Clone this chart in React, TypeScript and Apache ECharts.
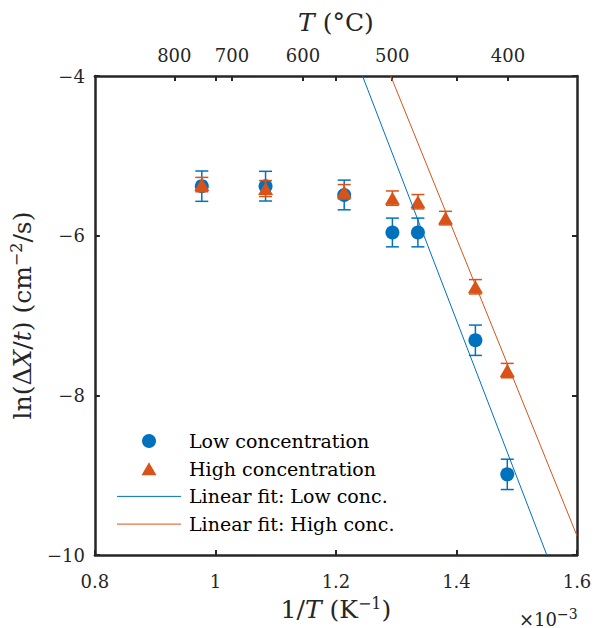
import React, { useEffect, useRef } from "react";
import * as echarts from "echarts";

// 1/T values in units of 1e-3 K^-1
const lowX = [0.9774, 1.0832, 1.2137, 1.2937, 1.336, 1.4314, 1.4843];
const lowY = [-5.38, -5.38, -5.49, -5.96, -5.96, -7.31, -8.99];
const lowErr = [0.19, 0.186, 0.186, 0.18, 0.18, 0.19, 0.19];

const highX = [0.9774, 1.0832, 1.2137, 1.2937, 1.336, 1.3818, 1.4314, 1.4843];
const highY = [-5.36, -5.41, -5.45, -5.53, -5.575, -5.78, -6.64, -7.69];
const highErr = [0.09, 0.1, 0.09, 0.09, 0.09, 0.085, 0.09, 0.09];

const fitLow = [
  [1.2441, -4],
  [1.5499, -10],
];
const fitHigh = [
  [1.2909, -4],
  [1.6, -9.76],
];

const topTempsC = [800, 700, 600, 500, 400];
const mirroredTicks = [1.0, 1.2, 1.4];
const seriesNames = [
  "Low concentration",
  "High concentration",
  "Linear fit: Low conc.",
  "Linear fit: High conc.",
];

const BLUE = "#0072BD";
const ORANGE = "#D95319";
const AXIS = "#262626";
const FONT = "DejaVu Serif";
const TICK_FS = 18;
const NAME_FS = 25;
const LEG_FS = 19;

const topTickPos = topTempsC.map((c) => 1000 / (c + 273.15));

function errorBarSeries(xs: number[], ys: number[], es: number[], color: string, z: number) {
  return {
    type: "custom",
    z,
    data: xs.map((x, i) => [x, ys[i], es[i]]),
    encode: { x: 0, y: 1 },
    renderItem: (params: any, api: any) => {
      const x = api.value(0);
      const y = api.value(1);
      const e = api.value(2);
      const top = api.coord([x, y + e]);
      const bot = api.coord([x, y - e]);
      const cw = 6.5;
      const style = { stroke: color, lineWidth: 1.5 };
      return {
        type: "group",
        children: [
          { type: "line", shape: { x1: top[0], y1: top[1], x2: bot[0], y2: bot[1] }, style },
          { type: "line", shape: { x1: top[0] - cw, y1: top[1], x2: top[0] + cw, y2: top[1] }, style },
          { type: "line", shape: { x1: bot[0] - cw, y1: bot[1], x2: bot[0] + cw, y2: bot[1] }, style },
        ],
      };
    },
  };
}

function legendGraphic() {
  const left = 117;
  const iconW = 64;
  const top0 = 441;
  const step = 27.7;
  const textX = 189;
  const items: any[] = [];
  seriesNames.forEach((name, i) => {
    const cy = top0 + i * step;
    const cx = left + iconW / 2;
    if (i === 0) {
      items.push({ type: "circle", shape: { cx, cy, r: 7 }, style: { fill: BLUE } });
    } else if (i === 1) {
      items.push({
        type: "polygon",
        shape: { points: [[cx, cy - 6.5], [cx + 7.5, cy + 6.5], [cx - 7.5, cy + 6.5]] },
        style: { fill: ORANGE },
      });
    } else {
      items.push({
        type: "line",
        shape: { x1: left, y1: cy, x2: left + iconW, y2: cy },
        style: { stroke: i === 2 ? BLUE : ORANGE, lineWidth: 1 },
      });
    }
    items.push({
      type: "text",
      x: textX,
      y: cy,
      style: {
        text: name,
        fontFamily: FONT,
        fontSize: LEG_FS,
        fill: "#000",
        verticalAlign: "middle",
        align: "left",
      },
    });
  });
  return items;
}

export default function App() {
  const ref = useRef<HTMLDivElement>(null);
  useEffect(() => {
    if (!ref.current) return;
    const chart = echarts.init(ref.current, null, { renderer: "svg" });
    const axisLine = { show: true, onZero: false, lineStyle: { color: AXIS, width: 2.5 } };
    const axisTick = { show: true, inside: true, length: 5, lineStyle: { color: AXIS, width: 2 } };
    const supStyle = { fontFamily: FONT, fontSize: 16, verticalAlign: "top", lineHeight: 16, color: AXIS };
    const nameStyle = (size: number) => ({
      fontFamily: FONT,
      fontSize: size,
      color: AXIS,
      lineHeight: 28,
      rich: {
        r: { fontFamily: FONT, fontSize: size, color: AXIS, lineHeight: 28 },
        i: { fontFamily: FONT, fontSize: size, fontStyle: "italic", color: AXIS, lineHeight: 28 },
        sup: supStyle,
      },
    });
    chart.setOption({
      animation: false,
      textStyle: { fontFamily: FONT },
      grid: { left: 93, right: 20, top: 76, bottom: 69, show: false },
      xAxis: [
        {
          type: "value",
          position: "bottom",
          min: 0.8,
          max: 1.6,
          interval: 0.2,
          axisLine,
          axisTick,
          splitLine: { show: false },
          axisLabel: {
            fontFamily: FONT,
            fontSize: TICK_FS,
            color: AXIS,
            margin: 17,
            formatter: (v: number) => String(Number(v.toFixed(1))),
          },
          name: "{r|1/}{i|T}{r| (K}{sup|\u22121}{r|)}",
          nameLocation: "middle",
          nameGap: 40,
          nameTextStyle: nameStyle(NAME_FS),
        },
        {
          type: "value",
          position: "top",
          min: 0.8,
          max: 1.6,
          axisLine,
          axisTick: { ...axisTick, customValues: [...mirroredTicks, ...topTickPos] },
          splitLine: { show: false },
          axisLabel: {
            customValues: topTickPos,
            fontFamily: FONT,
            fontSize: TICK_FS,
            color: AXIS,
            margin: 12,
            formatter: (v: number) => String(Math.round(1000 / v - 273.15)),
          },
          name: "{i|T}{r| (\u00B0C)}",
          nameLocation: "middle",
          nameGap: 40,
          nameTextStyle: nameStyle(NAME_FS),
        },
      ],
      yAxis: [
        {
          type: "value",
          position: "left",
          min: -10,
          max: -4,
          interval: 2,
          axisLine,
          axisTick,
          splitLine: { show: false },
          axisLabel: {
            fontFamily: FONT,
            fontSize: TICK_FS,
            color: AXIS,
            margin: 10,
            formatter: (v: number) => (v < 0 ? "\u2212" + Math.abs(v) : String(v)),
          },
          name: "{r|ln(\u0394}{i|X}{r|/}{i|t}{r|) (cm}{sup|\u22122}{r|/s)}",
          nameLocation: "middle",
          nameGap: 51,
          nameTextStyle: nameStyle(NAME_FS),
        },
        {
          type: "value",
          position: "right",
          min: -10,
          max: -4,
          interval: 2,
          axisLine,
          axisTick,
          splitLine: { show: false },
          axisLabel: { show: false },
        },
      ],
      graphic: [
        {
          type: "text",
          left: 519,
          top: 607,
          style: {
            text: "{r|\u00D710}{sup|\u22123}",
            fontFamily: FONT,
            fontSize: 18,
            fill: AXIS,
            lineHeight: 24,
            rich: {
              r: { fontFamily: FONT, fontSize: 18, fill: AXIS, lineHeight: 24 },
              sup: { fontFamily: FONT, fontSize: 14, verticalAlign: "top", lineHeight: 12, fill: AXIS },
            },
          },
        },
        ...legendGraphic(),
      ],
      series: [
        errorBarSeries(lowX, lowY, lowErr, BLUE, 2),
        {
          type: "scatter",
          name: seriesNames[0],
          z: 3,
          symbol: "circle",
          symbolSize: 14,
          itemStyle: { color: BLUE, opacity: 1 },
          data: lowX.map((x, i) => [x, lowY[i]]),
        },
        errorBarSeries(highX, highY, highErr, ORANGE, 4),
        {
          type: "scatter",
          name: seriesNames[1],
          z: 5,
          symbol: "triangle",
          symbolSize: [15, 13],
          itemStyle: { color: ORANGE, opacity: 1 },
          data: highX.map((x, i) => [x, highY[i]]),
        },
        {
          type: "line",
          name: seriesNames[2],
          z: 6,
          symbol: "none",
          showSymbol: false,
          clip: true,
          lineStyle: { color: BLUE, width: 1 },
          itemStyle: { color: BLUE },
          data: fitLow,
        },
        {
          type: "line",
          name: seriesNames[3],
          z: 6,
          symbol: "none",
          showSymbol: false,
          clip: true,
          lineStyle: { color: ORANGE, width: 1 },
          itemStyle: { color: ORANGE },
          data: fitHigh,
        },
      ],
    });
    return () => chart.dispose();
  }, []);
  return <div ref={ref} style={{ width: 597, height: 628, position: "absolute", left: 0, top: 0 }} />;
}
